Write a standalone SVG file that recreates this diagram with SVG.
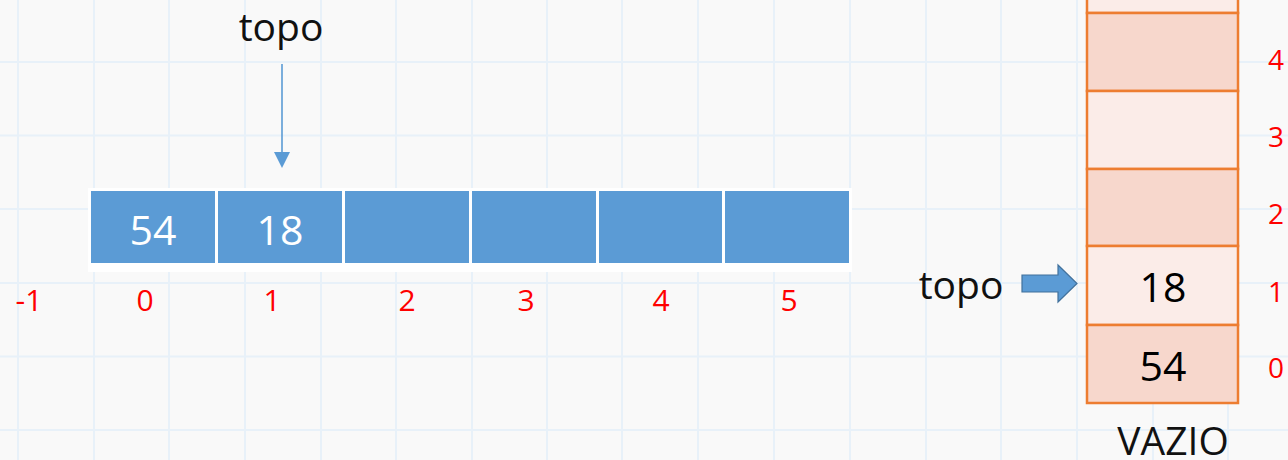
<svg xmlns="http://www.w3.org/2000/svg" width="1288" height="460" viewBox="0 0 1288 460">
<style>
.grid line{stroke:#e8f1f9;stroke-width:2}
.cell{fill:#5b9bd5}
.wv{font-family:"Open Sans","Liberation Sans",sans-serif;font-size:41px;fill:#ffffff;text-anchor:middle}
.bv{font-family:"Open Sans","Liberation Sans",sans-serif;font-size:41px;fill:#000000;text-anchor:middle}
.lbl{font-family:"Open Sans","Liberation Sans",sans-serif;font-size:39px;fill:#111111}
.idx{font-family:"Open Sans","Liberation Sans",sans-serif;font-size:30px;fill:#ff0000;text-anchor:middle}
.ridx{font-family:"Open Sans","Liberation Sans",sans-serif;font-size:28px;fill:#ff0000;text-anchor:middle}
.dk{fill:#f7d7cc;stroke:#ed7d31;stroke-width:2.5}
.lt{fill:#fbece8;stroke:#ed7d31;stroke-width:2.5}
</style>
<rect width="1288" height="460" fill="#f9f9f9"/>
<g class="grid">
<line x1="18" y1="0" x2="18" y2="460"/><line x1="94" y1="0" x2="94" y2="460"/><line x1="169" y1="0" x2="169" y2="460"/><line x1="245" y1="0" x2="245" y2="460"/><line x1="321" y1="0" x2="321" y2="460"/><line x1="396" y1="0" x2="396" y2="460"/><line x1="472" y1="0" x2="472" y2="460"/><line x1="547" y1="0" x2="547" y2="460"/><line x1="622" y1="0" x2="622" y2="460"/><line x1="698" y1="0" x2="698" y2="460"/><line x1="774" y1="0" x2="774" y2="460"/><line x1="850" y1="0" x2="850" y2="460"/><line x1="926" y1="0" x2="926" y2="460"/><line x1="1001" y1="0" x2="1001" y2="460"/><line x1="1077" y1="0" x2="1077" y2="460"/><line x1="1153" y1="0" x2="1153" y2="460"/><line x1="1228" y1="0" x2="1228" y2="460"/>
<line x1="0" y1="62" x2="1288" y2="62"/><line x1="0" y1="135.5" x2="1288" y2="135.5"/><line x1="0" y1="209" x2="1288" y2="209"/><line x1="0" y1="283" x2="1288" y2="283"/><line x1="0" y1="356.5" x2="1288" y2="356.5"/><line x1="0" y1="430" x2="1288" y2="430"/>
</g>
<g id="array">
<rect x="88" y="188" width="764" height="84" fill="#ffffff"/>
<rect class="cell" x="91" y="191" width="124" height="72"/>
<rect class="cell" x="218" y="191" width="124" height="72"/>
<rect class="cell" x="345" y="191" width="124" height="72"/>
<rect class="cell" x="472" y="191" width="124" height="72"/>
<rect class="cell" x="599" y="191" width="123" height="72"/>
<rect class="cell" x="725" y="191" width="124" height="72"/>
<text class="wv" x="153" y="245">54</text>
<text class="wv" x="280" y="245">18</text>
</g>
<g id="array-indices">
<text class="idx" x="29" y="311">-1</text>
<text class="idx" x="145" y="311">0</text>
<text class="idx" x="272" y="311">1</text>
<text class="idx" x="407" y="311">2</text>
<text class="idx" x="526" y="311">3</text>
<text class="idx" x="661" y="311">4</text>
<text class="idx" x="789" y="311">5</text>
</g>
<g id="topo-top">
<text class="lbl" x="281" y="41" text-anchor="middle">topo</text>
</g>
<g id="stack">
<rect class="lt" x="1087" y="-65" width="151" height="78"/>
<rect class="dk" x="1087" y="13" width="151" height="78"/>
<rect class="lt" x="1087" y="91" width="151" height="78"/>
<rect class="dk" x="1087" y="169" width="151" height="77"/>
<rect class="lt" x="1087" y="246" width="151" height="79"/>
<rect class="dk" x="1087" y="325" width="151" height="78"/>
<text class="bv" x="1163" y="302">18</text>
<text class="bv" x="1163" y="381">54</text>
</g>
<g id="stack-indices">
<text class="ridx" x="1276" y="70">4</text>
<text class="ridx" x="1276" y="147">3</text>
<text class="ridx" x="1276" y="224">2</text>
<text class="ridx" x="1276" y="302">1</text>
<text class="ridx" x="1276" y="378">0</text>
</g>
<g id="topo-right">
<text class="lbl" x="961" y="299" text-anchor="middle">topo</text>
</g>
<g id="vazio">
<text class="lbl" x="1173" y="455" text-anchor="middle">VAZIO</text>
</g>
<g id="connectors">
<line x1="282" y1="64" x2="282" y2="154" stroke="#5b9bd5" stroke-width="1.6"/>
<path d="M274,152 L290,152 L282,168 Z" fill="#5b9bd5"/>
<path d="M1022,275 L1058,275 L1058,265 L1077,283.5 L1058,302 L1058,292 L1022,292 Z" fill="#5b9bd5" stroke="#41719c" stroke-width="1.2"/>
</g>
</svg>
